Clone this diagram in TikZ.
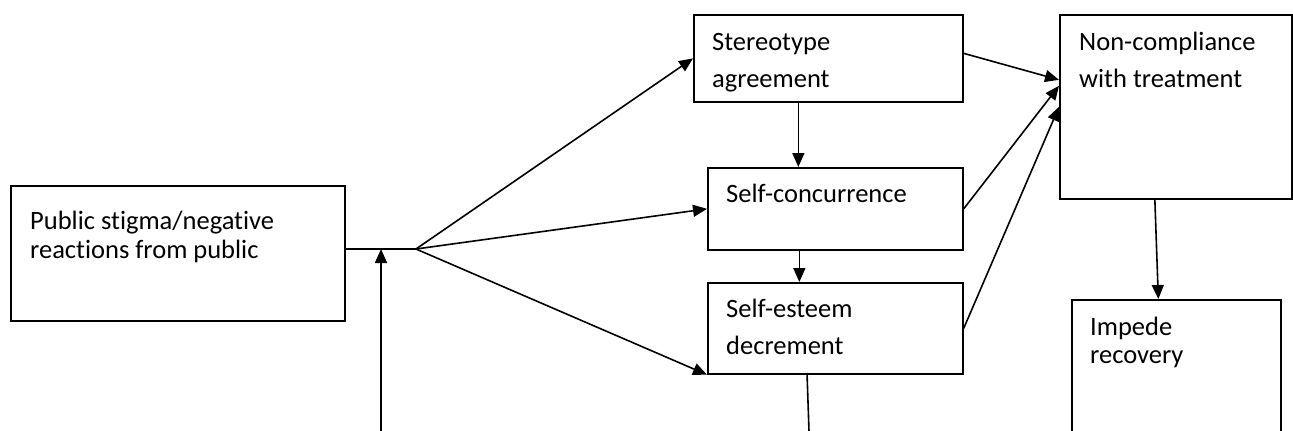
\documentclass[tikz,border=0pt]{standalone}
\usepackage{fontspec}
\setmainfont{Carlito}[Ligatures=NoCommon]
\usetikzlibrary{positioning, calc, arrows.meta}

\begin{document}
\begin{tikzpicture}[x=1pt, y=-1pt,
    box/.style={draw, line width=1.7pt, anchor=north west, inner sep=0pt},
    txt/.style={anchor=base west, inner sep=0pt, align=left},
    arr/.style={line width=1.6pt, -{Triangle[length=14pt,width=12pt]}},
    font=\fontsize{26.5}{37}\selectfont]
  \useasboundingbox (0,0) rectangle (1293,431);
  \clip (0,0) rectangle (1293,431);
  % boxes
  \node[box, minimum width=334, minimum height=135] (pub) at (10,185) {};
  \node[box, minimum width=269, minimum height=87] (st) at (693,14) {};
  \node[box, minimum width=255, minimum height=82] (sc) at (707,167) {};
  \node[box, minimum width=255, minimum height=91] (see) at (707,282) {};
  \node[box, minimum width=232, minimum height=184] (nc) at (1059,14) {};
  \node[box, minimum width=209, minimum height=160] (imp) at (1071,299) {};
  % texts (anchored at the last baseline)
  \node[txt, font=\fontsize{26.5}{29}\selectfont] (pub-txt) at (30,258) {Public stigma/negative\\reactions from public};
  \node[txt] (st-txt) at (712,87) {Stereotype\\agreement};
  \node[txt] (sc-txt) at (726,202) {Self-concurrence};
  \node[txt] (see-txt) at (726,354) {Self-esteem\\decrement};
  \node[txt] (nc-txt) at (1079,87) {Non-compliance\\with treatment};
  \node[txt, font=\fontsize{26.5}{28}\selectfont] (imp-txt) at (1090,363) {Impede\\recovery};
  % joints
  \coordinate (split) at (416,249);
  \coordinate (fb1) at (381,431);
  \coordinate (see-out) at (807,373);
  \coordinate (fb2) at (809,431);
  \path[arr]
    (split -| pub.east) edge[-] (split)
    (split) edge (st.west)
            edge (sc.west)
            edge (see.south west)
    (fb1) edge (fb1 |- split)
    ([xshift=-30]st.south) edge ([xshift=-30]st.south |- sc.north)
    ([xshift=-36]sc.south) edge ([xshift=-36]sc.south |- see.north)
    ([yshift=5]st.east) edge ([yshift=27]nc.west)
    (sc.east) edge ([yshift=21]nc.west)
    (see.east) edge (nc.west)
    ([xshift=-21]nc.south) edge ([xshift=-18]imp.north)
    (see-out) edge[-] (fb2);
\end{tikzpicture}
\end{document}
